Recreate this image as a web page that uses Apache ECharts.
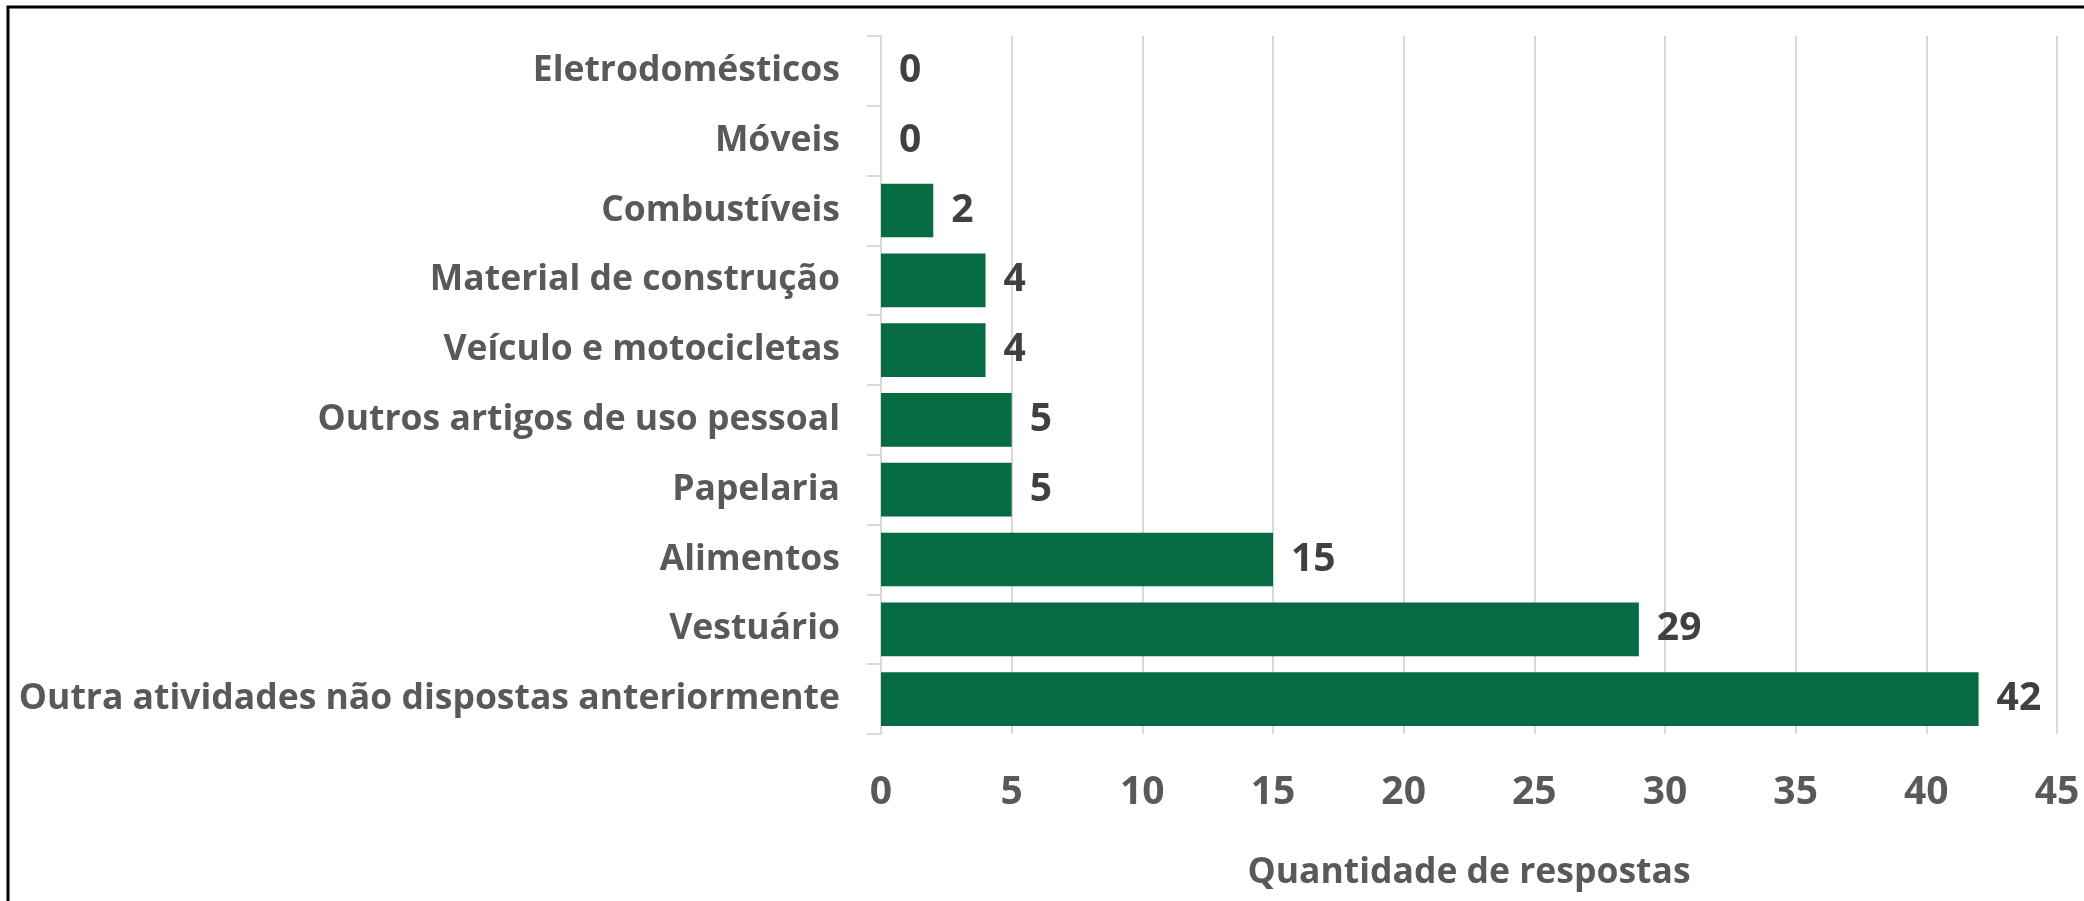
<!DOCTYPE html>
<html>
<head>
<meta charset="utf-8">
<script src="https://cdn.jsdelivr.net/npm/echarts@6/dist/echarts.min.js"></script>
<style>
html,body{margin:0;padding:0;background:#fff;}
#chart{width:2084px;height:901px;}
</style>
</head>
<body>
<div id="chart"></div>
<script>
// Categories listed top to bottom
const categories = [
  "Eletrodomésticos",
  "Móveis",
  "Combustíveis",
  "Material de construção",
  "Veículo e motocicletas",
  "Outros artigos de uso pessoal",
  "Papelaria",
  "Alimentos",
  "Vestuário",
  "Outra atividades não dispostas anteriormente"
];
const values = [0, 0, 2, 4, 4, 5, 5, 15, 29, 42];
const axisTitle = "Quantidade de respostas";
const xMin = 0, xMax = 45, xStep = 5;

const FONT = "'Open Sans', sans-serif";
const chart = echarts.init(document.getElementById('chart'), null, {renderer: 'canvas'});
chart.setOption({
  animation: false,
  backgroundColor: '#ffffff',
  graphic: [{
    type: 'rect',
    shape: {x: 8, y: 7, width: 2120, height: 940},
    style: {fill: 'none', stroke: '#000000', lineWidth: 3},
    silent: true
  }],
  grid: {left: 881, right: 27, top: 36, bottom: 167, containLabel: false, outerBoundsMode: 'none'},
  xAxis: {
    type: 'value',
    min: xMin, max: xMax, interval: xStep,
    axisLine: {show: false},
    axisTick: {show: false},
    splitLine: {show: true, lineStyle: {color: '#d9d9d9', width: 2}},
    axisLabel: {color: '#595959', fontFamily: FONT, fontWeight: 'bold', fontSize: 39, margin: 39},
    name: axisTitle,
    nameLocation: 'middle',
    nameGap: 121,
    nameTextStyle: {color: '#595959', fontFamily: FONT, fontWeight: 'bold', fontSize: 35.5}
  },
  yAxis: {
    type: 'category',
    data: categories,
    inverse: true,
    axisLine: {show: true, lineStyle: {color: '#d9d9d9', width: 2}},
    axisTick: {show: true, length: 14, lineStyle: {color: '#d9d9d9', width: 2}},
    axisLabel: {color: '#595959', fontFamily: FONT, fontWeight: 'bold', fontSize: 35.5, margin: 41}
  },
  series: [{
    type: 'bar',
    data: values,
    barCategoryGap: '23%',
    itemStyle: {color: '#066a43'},
    label: {
      show: true, position: 'right', distance: 18,
      color: '#404040', fontFamily: FONT, fontWeight: 'bold', fontSize: 39
    }
  }]
});
</script>
</body>
</html>
